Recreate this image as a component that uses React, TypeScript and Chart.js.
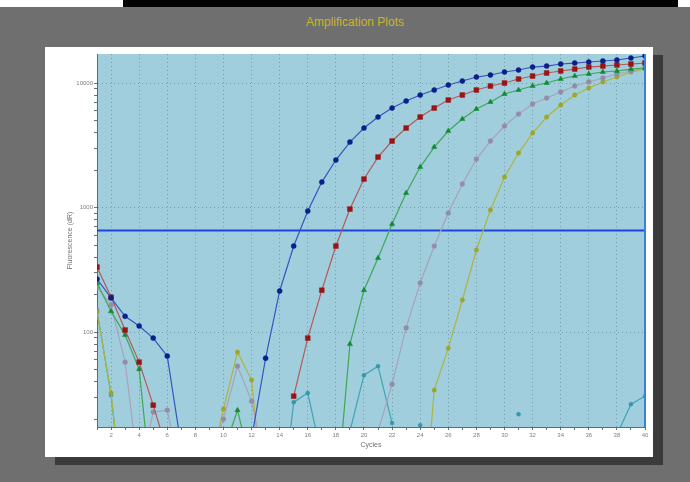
import React, { useEffect, useRef } from 'react';
import { Chart, registerables } from 'chart.js';

Chart.register(...registerables);

const cycles = [1, 2, 3, 4, 5, 6, 7, 8, 9, 10, 11, 12, 13, 14, 15, 16, 17, 18, 19, 20, 21, 22, 23, 24, 25, 26, 27, 28, 29, 30, 31, 32, 33, 34, 35, 36, 37, 38, 39, 40];
const xLabelValues = [2, 4, 6, 8, 10, 12, 14, 16, 18, 20, 22, 24, 26, 28, 30, 32, 34, 36, 38, 40];
const yMajorTicks = [100, 1000, 10000];
const yAllTicks = [20, 30, 40, 50, 60, 70, 80, 90, 100, 200, 300, 400, 500, 600, 700, 800, 900, 1000, 2000, 3000, 4000, 5000, 6000, 7000, 8000, 9000, 10000];
const yMin = 17.3;
const yMax = 17100;
const thresholdValue = 653;

const blueSeries = [267, 188, 134, 112, 89.5, 64.2, 12, null, null, null, null, 14, 61.8, 214, 491, 937, 1602, 2407, 3358, 4350, 5333, 6299, 7169, 8009, 8786, 9636, 10380, 11170, 11600, 12260, 12720, 13440, 13690, 14210, 14470, 14750, 15020, 15300, 15880, 16480];
const redSeries = [333, 191, 104, 57.4, 25.9, 11, null, null, null, null, null, null, null, null, 30.6, 89.5, 217, 491, 973, 1694, 2544, 3421, 4350, 5333, 6299, 7303, 8009, 8786, 9460, 10000, 10770, 11380, 12030, 12490, 12950, 13440, 13690, 13950, 14210, 14470];
const greenSeries = [248, 147, 94.6, 50.4, 4, null, null, null, null, 11, 23.6, 8, null, null, null, null, null, 4, 80.1, 217, 393, 737, 1308, 2115, 3062, 4116, 5137, 6183, 7037, 8158, 8786, 9460, 10000, 10770, 11380, 11810, 12260, 12490, 12950, 13200];
const mauveSeries = [230, 165, 57.4, 7, 22.8, 23.6, 7, null, 10, 20.0, 53.3, 27.9, 8, null, null, null, null, null, null, null, 16, 38.2, 108, 248, 491, 903, 1545, 2453, 3421, 4513, 5636, 6782, 7577, 8468, 9460, 10190, 10970, 11810, 12490, 13200];
const yellowSeries = [145, 32.4, 3, null, null, null, null, null, 8, 24.1, 69.1, 41.2, 3, null, null, null, null, null, null, null, null, null, null, 1.5, 34.2, 74.4, 181, 456, 955, 1758, 2740, 3966, 5333, 6658, 8009, 9117, 10190, 11170, 12260, 12950];
const tealSeries = [150, 31.2, 3, null, null, null, null, null, null, null, null, null, null, 3, 27.4, 32.4, 10, null, 16, 45.1, 53.3, 18.6, null, 17.9, null, null, null, null, null, null, 21.9, null, null, null, null, null, null, 15, 26.4, 30.6];

const FONT_FAMILY = '"Liberation Sans", Arial, sans-serif';
const GRID_COLOR = 'rgba(70,105,118,0.5)';
const TEXT_COLOR = '#808080';

function series(label: string, values: (number | null)[], line: string, marker: string, style: string, radius: number) {
  return {
    label,
    data: values.map((v, i) => ({ x: cycles[i], y: v })),
    borderColor: line,
    backgroundColor: marker,
    pointBackgroundColor: marker,
    pointBorderColor: marker,
    pointStyle: style,
    pointRadius: radius,
    pointBorderWidth: 0.5,
    borderWidth: 1.2,
    tension: 0,
    spanGaps: false,
  };
}

const plotDecor = {
  id: 'plotDecor',
  beforeDraw(chart: any) {
    const { ctx, chartArea: a } = chart;
    ctx.save();
    ctx.fillStyle = '#a0cedd';
    ctx.fillRect(a.left, a.top, a.right - a.left, a.bottom - a.top);
    ctx.restore();
  },
  afterDatasetsDraw(chart: any) {
    const { ctx, chartArea: a } = chart;
    ctx.save();
    ctx.strokeStyle = '#3a7fe6';
    ctx.lineWidth = 2;
    ctx.beginPath();
    ctx.moveTo(a.right, a.top);
    ctx.lineTo(a.right, a.bottom);
    ctx.stroke();
    ctx.restore();
  },
};

export default function App() {
  const canvasRef = useRef<HTMLCanvasElement | null>(null);

  useEffect(() => {
    if (!canvasRef.current) return;
    const tickFont = { family: FONT_FAMILY, size: 6 };
    const chart = new Chart(canvasRef.current, {
      type: 'line',
      data: {
        datasets: [
          series('A', blueSeries, '#3656be', '#0b1e8a', 'circle', 2.5),
          series('B', redSeries, '#b25a5a', '#9a1414', 'rect', 3.4),
          series('C', greenSeries, '#3fa654', '#0f8a30', 'triangle', 3),
          series('D', mauveSeries, '#a9a2b8', '#948ca6', 'circle', 2.4),
          series('E', yellowSeries, '#adb53e', '#9ea42c', 'circle', 2.2),
          series('F', tealSeries, '#3aa6b6', '#3596a6', 'circle', 2),
          {
            label: 'Threshold',
            data: [
              { x: cycles[0], y: thresholdValue },
              { x: cycles[cycles.length - 1], y: thresholdValue },
            ],
            borderColor: '#1a44e0',
            borderWidth: 2,
            pointRadius: 0,
          },
        ] as any,
      },
      options: {
        animation: false,
        responsive: false,
        maintainAspectRatio: false,
        layout: { padding: { top: 7, right: 8, left: 0, bottom: 0 } },
        plugins: {
          legend: { display: false },
          tooltip: { enabled: false },
        },
        scales: {
          x: {
            type: 'linear',
            min: 1,
            max: 40,
            afterBuildTicks: (s: any) => {
              s.ticks = cycles.map((v) => ({ value: v }));
            },
            afterFit: (s: any) => {
              s.height = 30;
            },
            grid: {
              color: (c: any) => (c.tick && xLabelValues.includes(c.tick.value) ? GRID_COLOR : 'rgba(0,0,0,0)'),
              lineWidth: 1,
              tickColor: '#5a7884',
              tickLength: 3,
            },
            border: { display: true, color: '#4f6f7b', width: 1, dash: [1, 3] },
            ticks: {
              autoSkip: false,
              maxRotation: 0,
              padding: 2,
              color: TEXT_COLOR,
              font: tickFont,
              callback: (v: any) => (xLabelValues.includes(v) ? String(v) : ''),
            },
            title: {
              display: true,
              text: 'Cycles',
              color: '#707070',
              font: { family: FONT_FAMILY, size: 7 },
              padding: { top: 0, bottom: 8 },
            },
          },
          y: {
            type: 'logarithmic',
            min: yMin,
            max: yMax,
            afterBuildTicks: (s: any) => {
              s.ticks = yAllTicks.map((v) => ({ value: v, major: yMajorTicks.includes(v) }));
            },
            afterFit: (s: any) => {
              s.width = 52;
            },
            grid: {
              color: (c: any) => (c.tick && yMajorTicks.includes(c.tick.value) ? GRID_COLOR : 'rgba(0,0,0,0)'),
              lineWidth: 1,
              tickColor: '#5a7884',
              tickLength: 3,
            },
            border: { display: true, color: '#4f6f7b', width: 1, dash: [1, 3] },
            ticks: {
              autoSkip: false,
              padding: 1,
              color: TEXT_COLOR,
              font: tickFont,
              callback: (v: any) => (yMajorTicks.includes(v) ? String(v) : ''),
            },
            title: {
              display: true,
              text: 'Fluorescence (dR)',
              color: '#707070',
              font: { family: FONT_FAMILY, size: 7 },
              padding: { top: 21, bottom: 0 },
            },
          },
        },
      } as any,
      plugins: [plotDecor],
    });
    return () => chart.destroy();
  }, []);

  return (
    <div style={{ position: 'absolute', left: 0, top: 0, width: 690, height: 482, background: '#6f6f6f', overflow: 'hidden' }}>
      <div style={{ position: 'absolute', left: 0, top: 0, width: 690, height: 7, background: '#ffffff' }} />
      <div style={{ position: 'absolute', left: 123, top: 0, width: 555, height: 7, background: '#000000' }} />
      <div
        style={{
          position: 'absolute',
          left: 0,
          top: 15,
          width: 710,
          textAlign: 'center',
          fontFamily: FONT_FAMILY,
          fontSize: 12,
          lineHeight: '14px',
          color: '#c9b62a',
          whiteSpace: 'nowrap',
        }}
      >
        Amplification Plots
      </div>
      <div style={{ position: 'absolute', left: 55, top: 55, width: 608, height: 410, background: '#3b3b3b' }} />
      <div style={{ position: 'absolute', left: 45, top: 47, width: 608, height: 410, background: '#ffffff' }} />
      <canvas
        ref={canvasRef}
        width={608}
        height={410}
        style={{ position: 'absolute', left: 45, top: 47, width: 608, height: 410 }}
      />
    </div>
  );
}
